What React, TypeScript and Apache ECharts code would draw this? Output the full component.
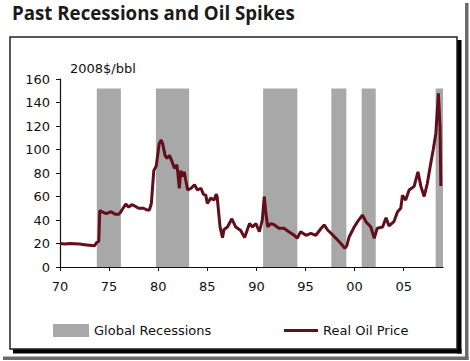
import React, { useEffect, useRef } from "react";
import * as echarts from "echarts";

const titleText = "Past Recessions and Oil Spikes";
const unitLabel = "2008$/bbl";
const xTickYears = [1970, 1975, 1980, 1985, 1990, 1995, 2000, 2005];

// Global recessions: [start year, end year]
const recessionStarts = [1973.75, 1979.77, 1990.68, 1997.63, 2000.72, 2008.25];
const recessionEnds = [1976.2, 1983.15, 1994.17, 1999.16, 2002.15, 2009.0];
const recessionTop = 152;

// Real oil price (2008 $/bbl)
const priceYears = [
  1970.0, 1970.5, 1971.0, 1971.5, 1972.0, 1972.5, 1973.0, 1973.5, 1973.75, 1973.95,
  1974.05, 1974.3, 1974.7, 1975.2, 1975.6, 1976.0, 1976.2, 1976.5, 1976.7, 1977.0,
  1977.3, 1977.7, 1978.0, 1978.5, 1978.9, 1979.1, 1979.3, 1979.55, 1979.8, 1980.1,
  1980.3, 1980.45, 1980.7, 1980.9, 1981.15, 1981.35, 1981.65, 1981.9, 1982.0, 1982.15,
  1982.3, 1982.5, 1982.65, 1982.8, 1983.0, 1983.35, 1983.7, 1984.0, 1984.35, 1984.6,
  1984.85, 1985.0, 1985.35, 1985.7, 1985.9, 1986.0, 1986.3, 1986.55, 1986.7, 1987.05,
  1987.5, 1987.9, 1988.4, 1988.8, 1989.3, 1989.6, 1989.95, 1990.3, 1990.6, 1990.8,
  1990.97, 1991.15, 1991.5, 1991.8, 1992.3, 1992.8, 1993.3, 1993.85, 1994.15, 1994.5,
  1995.05, 1995.55, 1996.05, 1996.6, 1996.9, 1997.25, 1997.6, 1998.1, 1998.6, 1999.0,
  1999.2, 1999.45, 1999.96, 2000.3, 2000.8, 2001.15, 2001.65, 2002.0, 2002.3, 2002.85,
  2003.2, 2003.5, 2004.0, 2004.37, 2004.7, 2004.87, 2005.2, 2005.55, 2006.06, 2006.45,
  2006.75, 2007.08, 2007.4, 2007.75, 2008.0, 2008.27, 2008.53, 2008.7, 2008.78,
];
const priceValues = [
  20, 19.5, 20, 19.8, 19.5, 19, 18.5, 18, 21, 22,
  48, 47, 45.5, 47, 45, 45, 47, 51, 53.5, 51,
  53, 51.5, 50, 50, 48.5, 48.5, 54, 82, 86, 105,
  108, 105, 95, 92.5, 95, 91, 84, 87, 80, 67,
  82, 77, 81, 74, 65.5, 67, 70, 65.5, 67, 62,
  61, 54, 58.6, 57, 62, 60, 34, 25, 32, 34,
  41, 34, 31, 25, 37, 34, 37, 30, 40, 60,
  45.7, 34.3, 37, 36, 33, 33, 30, 27, 24.4, 30,
  27, 28.7, 27, 33, 35.8, 31.5, 28.7, 24.4, 20, 16,
  18, 25.8, 34, 38.6, 44.2, 38.6, 34, 24.4, 33, 34,
  42, 35, 38.6, 47, 50, 61, 57, 65.5, 68.6, 81,
  68.6, 60, 71, 88, 99.5, 113.7, 147.8, 119, 69,
];

const FONT = "DejaVu Sans";
const LINE_COLOR = "#620f1c";
const BAR_COLOR = "#a8a8a8";

export default function App() {
  const ref = useRef<HTMLDivElement>(null);
  useEffect(() => {
    if (!ref.current) return;
    const chart = echarts.init(ref.current, null, { renderer: "svg" });
    const recessionData = recessionStarts.map((s, i) => [s, recessionEnds[i], recessionTop]);
    const lineData = priceYears.map((y, i) => [y, priceValues[i]]);
    const option: any = {
      animation: false,
      backgroundColor: "#ffffff",
      title: {
        text: titleText,
        left: 7,
        top: -2,
        textStyle: { fontFamily: "Open Sans", fontWeight: "bold", fontSize: 18.7, color: "#1a1a1a" },
      },
      grid: { left: 60, top: 79, right: 27, bottom: 94, containLabel: false },
      legend: [
        {
          left: 48,
          top: 319,
          itemWidth: 36,
          itemHeight: 13,
          textStyle: { fontFamily: FONT, fontSize: 13, color: "#111" },
          data: [{ name: "Global Recessions", icon: "rect", itemStyle: { color: BAR_COLOR } }],
        },
        {
          left: 279,
          top: 319,
          itemWidth: 34,
          itemHeight: 3,
          textStyle: { fontFamily: FONT, fontSize: 13, color: "#111" },
          data: [{ name: "Real Oil Price", icon: "rect", itemStyle: { color: LINE_COLOR } }],
        },
      ],
      xAxis: {
        type: "value",
        min: 1970,
        max: 2009,
        interval: 5,
        splitLine: { show: false },
        axisLine: { lineStyle: { color: "#111", width: 1.2 } },
        axisTick: { show: true, length: 4, customValues: xTickYears, lineStyle: { color: "#111" } },
        axisLabel: {
          customValues: xTickYears,
          margin: 13,
          fontFamily: FONT,
          fontSize: 13,
          color: "#111",
          formatter: (v: number) => String(Math.round(v) % 100).padStart(2, "0"),
        },
      },
      yAxis: {
        type: "value",
        min: 0,
        max: 160,
        interval: 20,
        name: unitLabel,
        nameLocation: "end",
        nameGap: 4,
        nameTextStyle: {
          fontFamily: FONT,
          fontSize: 13,
          color: "#111",
          align: "left",
          verticalAlign: "bottom",
          padding: [0, 0, 0, 10],
        },
        splitLine: { show: false },
        axisLine: { show: true, lineStyle: { color: "#111", width: 1.2 } },
        axisTick: { show: true, length: 4, lineStyle: { color: "#111" } },
        axisLabel: { margin: 10, fontFamily: FONT, fontSize: 13, color: "#111" },
      },
      series: [
        {
          name: "Global Recessions",
          type: "custom",
          data: recessionData,
          encode: { x: [0, 1], y: 2 },
          itemStyle: { color: BAR_COLOR },
          renderItem: (params: any, api: any) => {
            const p0 = api.coord([api.value(0), api.value(2)]);
            const p1 = api.coord([api.value(1), 0]);
            return {
              type: "rect",
              shape: { x: p0[0], y: p0[1], width: p1[0] - p0[0], height: p1[1] - p0[1] },
              style: { fill: BAR_COLOR },
            };
          },
          z: 1,
        },
        {
          name: "Real Oil Price",
          type: "line",
          data: lineData,
          showSymbol: false,
          symbol: "none",
          lineStyle: { color: LINE_COLOR, width: 3 },
          itemStyle: { color: LINE_COLOR },
          z: 3,
        },
      ],
      graphic: [
        { type: "rect", shape: { x: 465, y: 3, width: 3.5, height: 357 }, style: { fill: "#6a6a6a" }, silent: true },
        { type: "rect", shape: { x: 3, y: 356.5, width: 465.5, height: 3.5 }, style: { fill: "#6a6a6a" }, silent: true },
        { type: "rect", shape: { x: 457, y: 40, width: 4.5, height: 313.5 }, style: { fill: "#000" }, silent: true },
        { type: "rect", shape: { x: 13, y: 349, width: 448.5, height: 4.5 }, style: { fill: "#000" }, silent: true },
        {
          type: "rect",
          shape: { x: 10, y: 37, width: 447, height: 312 },
          style: { fill: "none", stroke: "#222", lineWidth: 1.5 },
          silent: true,
        },
      ],
    };
    chart.setOption(option);
    return () => chart.dispose();
  }, []);
  return (
    <div
      ref={ref}
      style={{ position: "fixed", left: 0, top: 0, width: 470, height: 361 }}
    />
  );
}
